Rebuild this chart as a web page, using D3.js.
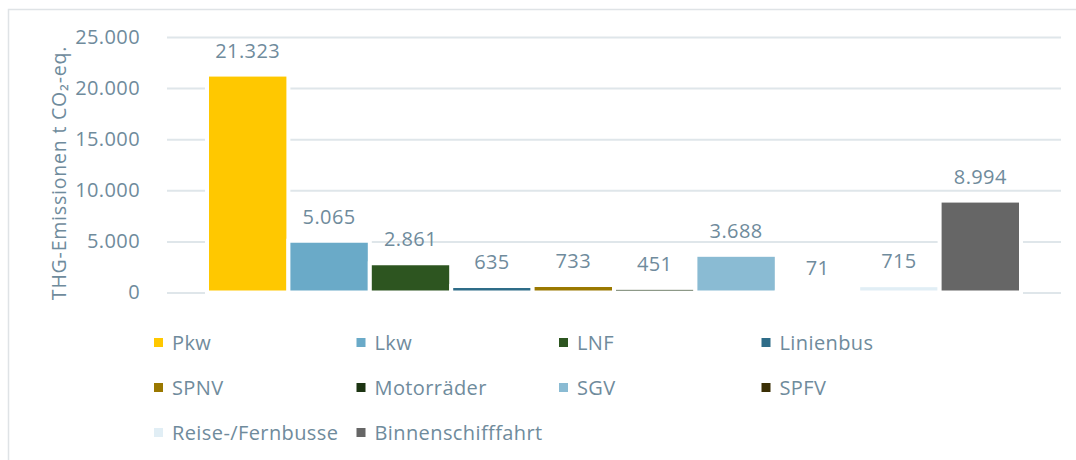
<!DOCTYPE html>
<html>
<head>
<meta charset="utf-8">
<script src="https://cdn.jsdelivr.net/npm/d3@7"></script>
<style>
  body { margin: 0; background: #fff; }
  text { font-family: "Open Sans", sans-serif; fill: #6f8b9c; letter-spacing: 0.4px; }
</style>
</head>
<body>
<script>
// data
const categories = ['Pkw', 'Lkw', 'LNF', 'Linienbus', 'SPNV', 'Motorräder', 'SGV', 'SPFV', 'Reise-/Fernbusse', 'Binnenschifffahrt']
const values = [21323, 5065, 2861, 635, 733, 451, 3688, 71, 715, 8994]
const colors = ['#ffc800', '#6aaac8', '#2d5520', '#2e6c88', '#9a7800', '#1c3412', '#8abbd3', '#3b2f05', '#e1eef5', '#666666']
const yTicks = [0, 5000, 10000, 15000, 20000, 25000]

const W = 1076, H = 460
const margin = { top: 37, right: 15, bottom: 168, left: 167 }
    , width = 1061 - margin.left
    , height = 292.5 - margin.top

const de = d3.formatLocale({ decimal: ',', thousands: '.', grouping: [3], currency: ['', '€'] })
const fmt = de.format(',')

const svg = d3.select('body').append('svg')
    .attr('width', W)
    .attr('height', H)

// outer frame
svg.append('rect')
    .attr('x', 8.5).attr('y', 9.5)
    .attr('width', W).attr('height', H)
    .attr('fill', 'none')
    .attr('stroke', '#dfe3e6')
    .attr('stroke-width', 1.5)

const g = svg.append('g')
    .attr('transform', 'translate(' + margin.left + ',' + margin.top + ')')

const yScale = d3.scaleLinear()
    .domain([0, 25000])
    .range([height, 0])

// one cluster, 10 series, ~98% gap width
const xScale = d3.scaleBand()
    .domain(categories)
    .range([40, width - 40])

// gridlines + tick labels
g.append('g')
    .call(d3.axisLeft(yScale).tickValues(yTicks).tickSize(-width).tickFormat(fmt).tickPadding(27))
    .call(ax => ax.select('.domain').remove())
    .call(ax => ax.selectAll('line').attr('stroke', '#dfe6ea').attr('stroke-width', 2))
    .call(ax => ax.selectAll('text')
        .attr('fill', '#6f8b9c')
        .style('font-size', '20px')
        .style('font-family', '"Open Sans", sans-serif'))

// bars
g.selectAll('.bar').data(values)
    .enter()
    .append('rect')
    .attr('x', (d, i) => xScale(categories[i]))
    .attr('y', d => yScale(d))
    .attr('width', xScale.bandwidth())
    .attr('height', d => height - yScale(d))
    .attr('fill', (d, i) => colors[i])
    .attr('stroke', '#fff')
    .attr('stroke-width', 4)

// value labels
g.selectAll('.lbl').data(values)
    .enter()
    .append('text')
    .attr('x', (d, i) => xScale(categories[i]) + xScale.bandwidth() / 2)
    .attr('y', d => yScale(d) - 17)
    .attr('text-anchor', 'middle')
    .style('font-size', '20px')
    .text(d => fmt(d))

// y axis title
svg.append('text')
    .attr('text-anchor', 'middle')
    .attr('transform', 'translate(' + 66 + ',' + 173 + ')rotate(-90)')
    .style('font-size', '19.5px')
    .style('letter-spacing', '0.8px')
    .text('THG-Emissionen t CO₂-eq.')

// legend, 4 columns
const legend = svg.append('g')
    .attr('transform', 'translate(154,338)')

const item = legend.selectAll('.item').data(categories)
    .enter()
    .append('g')
    .attr('transform', (d, i) => 'translate(' + (i % 4) * 202.5 + ',' + Math.floor(i / 4) * 45 + ')')

item.append('rect')
    .attr('width', 9).attr('height', 9)
    .attr('fill', (d, i) => colors[i])

item.append('text')
    .attr('x', 18)
    .attr('y', 4.5)
    .attr('dy', '0.35em')
    .style('font-size', '20px')
    .text(d => d)
</script>
</body>
</html>
